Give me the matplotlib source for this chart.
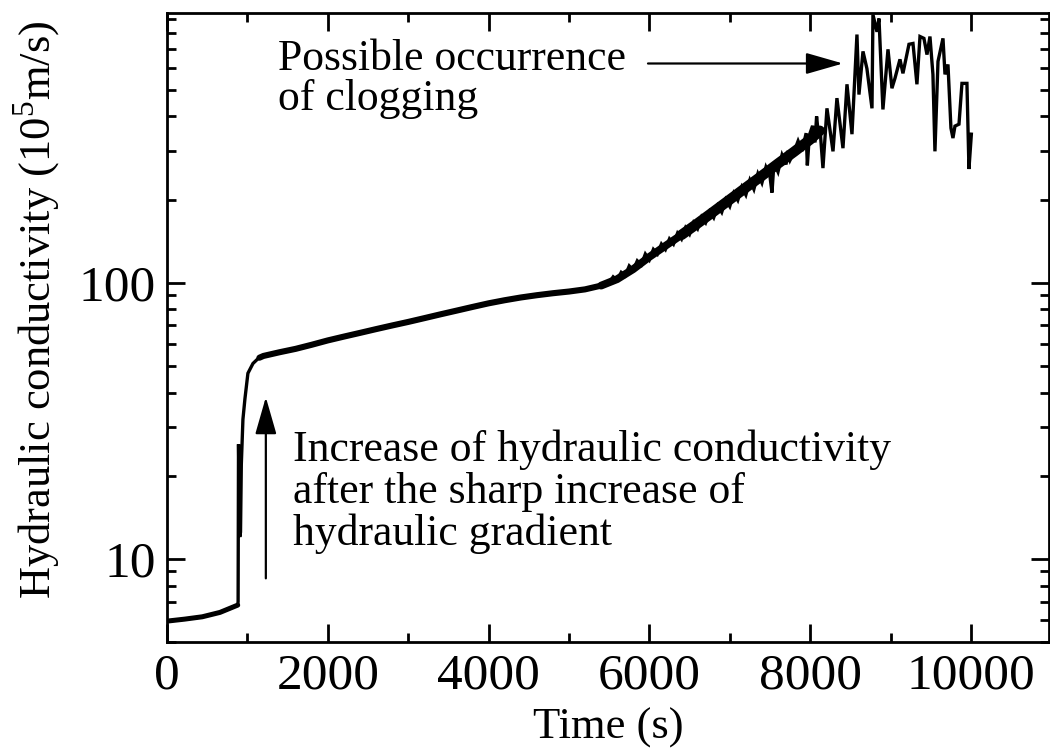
import numpy as np
import matplotlib.pyplot as plt
from matplotlib.ticker import FixedLocator, LogLocator, NullFormatter, FixedFormatter, MultipleLocator

plt.rcParams['font.family'] = ['Liberation Serif', 'DejaVu Serif']
plt.rcParams['mathtext.fontset'] = 'custom'
plt.rcParams['mathtext.rm'] = 'Liberation Serif'

# ---------------------------------------------------------------
# values
# ---------------------------------------------------------------

# before the sharp increase of hydraulic gradient
time_start = [0, 220, 440, 660, 880]
k_start = [5.95, 6.05, 6.17, 6.4, 6.8]

# jump
time_jump = [885, 890, 905, 915, 925, 945, 970, 1007, 1070, 1130]
k_jump = [7.0, 26.0, 12.0, 12.5, 22.0, 32.0, 38.0, 47.0, 51.0, 53.0]

# centre of the noisy trace
time_trace = [1150, 1200, 1400, 1600, 1800, 2000, 2200, 2400, 2600, 2800, 3000,
              3200, 3400, 3600, 3800, 4000, 4200, 4400, 4600, 4800, 5000, 5200,
              5400, 5600, 5800, 6000, 6200, 6400, 6600, 6800, 7000, 7200, 7400,
              7600, 7800, 8000, 8120]
k_trace = [53.5, 54.3, 56.0, 57.6, 59.6, 61.8, 63.8, 65.8, 67.9, 70.0, 72.1,
           74.4, 76.8, 79.2, 81.7, 84.2, 86.4, 88.4, 90.1, 91.6, 92.9, 94.6,
           97.6, 103.0, 112.0, 124.0, 136.0, 149.0, 164.0, 181.0, 200.0, 221.0, 244.0,
           270.0, 298.0, 330.0, 355.0]

# up / down scatter of the record along the steep rise
time_noise = [5500, 5550, 5600, 5650, 5700, 5750, 5800, 5850, 5900, 5950, 6000, 6050,
              6100, 6150, 6200, 6250, 6300, 6350, 6400, 6450, 6500, 6550, 6600, 6650,
              6700, 6750, 6800, 6850, 6900, 6950, 7000, 7050, 7100, 7150, 7200, 7250,
              7300, 7350, 7400, 7450, 7500, 7525, 7550, 7600, 7650, 7700, 7720, 7750,
              7800, 7850, 7900, 7950, 7965, 7990, 8030, 8060, 8080, 8100, 8122]
k_noise = [100, 105, 102, 109, 106, 115, 111, 120, 116, 127, 121, 132,
           127, 138, 132, 144, 138, 151, 144, 158, 150, 165, 157, 173,
           165, 181, 172, 190, 180, 200, 189, 211, 199, 222, 208, 235,
           218, 248, 230, 262, 243, 212, 272, 252, 290, 268, 300, 278,
           298, 326, 300, 348, 266, 342, 370, 322, 400, 350, 363]

# clogging region
time_clog = [8159, 8209, 8284, 8333, 8408, 8458, 8520, 8582, 8607, 8657, 8706, 8769,
             8781, 8831, 8856, 8905, 8968, 9017, 9055, 9117, 9154, 9229, 9279, 9328,
             9366, 9415, 9453, 9490, 9527, 9552, 9590, 9652, 9677, 9714, 9751, 9776,
             9801, 9851, 9888, 9950, 9975, 10005]
k_clog = [260, 428, 299, 466, 307, 523, 345, 792, 480, 688, 596, 428,
          935, 810, 905, 424, 700, 506, 550, 644, 573, 730, 735, 523,
          779, 767, 670, 779, 568, 299, 633, 767, 568, 617, 363, 334,
          369, 375, 527, 527, 258, 345]

fig = plt.figure(figsize=(10.5, 7.56), dpi=100)
ax = fig.add_axes([0.159, 0.1508, 0.840, 0.8324])

# noise in the record makes the trace look thicker where it is dense
tt = np.array(time_trace)
kk = np.array(k_trace)
ax.plot(time_start, k_start, color='black', lw=3.6, solid_capstyle='round')
m = tt <= 5600
ax.plot(tt[m], kk[m], color='black', lw=4.4, solid_capstyle='round')
m = (tt >= 5400) & (tt <= 6600)
ax.plot(tt[m], kk[m], color='black', lw=5.6, solid_capstyle='round')
m = tt >= 6400
ax.plot(tt[m], kk[m], color='black', lw=7.5, solid_capstyle='round')

thin_t = time_start + time_jump + [t for t in time_trace if t < 5500] + time_noise + time_clog
thin_k = k_start + k_jump + [v for t, v in zip(time_trace, k_trace) if t < 5500] + k_noise + k_clog
ax.plot(thin_t, thin_k, color='black', lw=2.4, solid_joinstyle='miter')

ax.set_yscale('log')
ax.set_xlim(0, 10970)
ax.set_ylim(5, 950)

ax.xaxis.set_major_locator(FixedLocator([0, 2000, 4000, 6000, 8000, 10000]))
ax.xaxis.set_minor_locator(MultipleLocator(1000))
ax.yaxis.set_major_locator(FixedLocator([10, 100]))
ax.yaxis.set_major_formatter(FixedFormatter(['10', '100']))
ax.yaxis.set_minor_locator(LogLocator(base=10, subs=np.arange(2, 10)))
ax.yaxis.set_minor_formatter(NullFormatter())

ax.tick_params(which='both', direction='in', top=True, right=True, width=2.0)
ax.tick_params(which='major', length=13, labelsize=37, pad=8)
ax.tick_params(which='minor', length=6.5)
for sp in ax.spines.values():
    sp.set_linewidth(2.0)

ax.set_xlabel('Time (s)', fontsize=32, labelpad=6)
ax.set_ylabel('Hydraulic conductivity (10$^{5}$m/s)', fontsize=32)
ax.yaxis.set_label_coords(-0.118, 0.5276)

ax.text(1380, 766, 'Possible occurrence\nof clogging', fontsize=31.5,
        ha='left', va='top', linespacing=1.0)
ax.text(1567, 29.3, 'Increase of hydraulic conductivity\nafter the sharp increase of\nhydraulic gradient',
        fontsize=31.5, ha='left', va='top', linespacing=1.05)

ax.annotate('', xy=(8408, 622), xytext=(5983, 622),
            arrowprops=dict(arrowstyle='-|>,head_length=1.15,head_width=0.33',
                            mutation_scale=20, lw=1.6, color='black',
                            shrinkA=0, shrinkB=0))
ax.annotate('', xy=(1230, 38.5), xytext=(1230, 8.5),
            arrowprops=dict(arrowstyle='-|>,head_length=1.15,head_width=0.33',
                            mutation_scale=20, lw=1.6, color='black',
                            shrinkA=0, shrinkB=0))

fig.savefig('out.png', dpi=100)
